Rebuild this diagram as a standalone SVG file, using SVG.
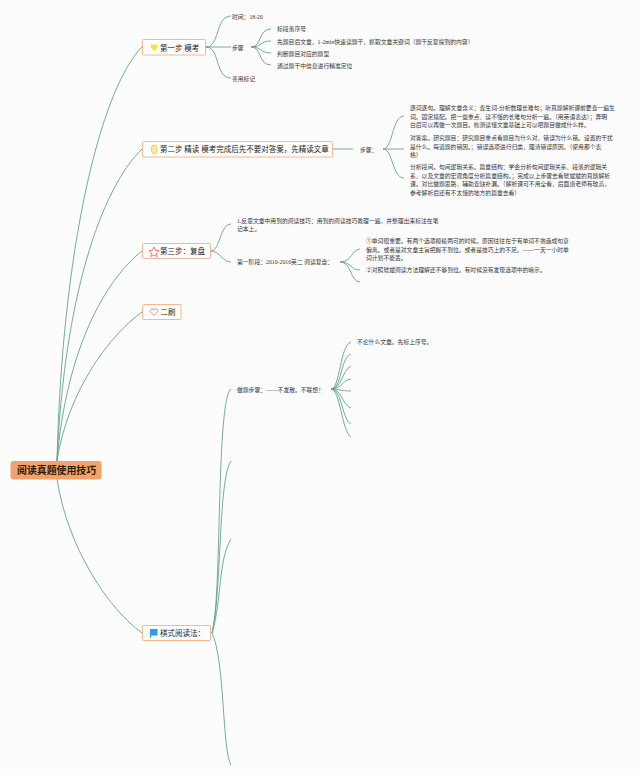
<svg xmlns="http://www.w3.org/2000/svg" width="640" height="775" viewBox="0 0 640 775">
<style>
text{font-family:"Liberation Serif","Noto Sans CJK SC",sans-serif;fill:#333}
.s{font-size:5.8px}
.m{font-size:7.5px;fill:#222}
.r{font-size:9.9px;font-weight:bold;fill:#2a1a10;font-family:"Noto Sans CJK SC",sans-serif}
.b{fill:#fff;stroke:#f2b184;stroke-width:.9}
.c path{fill:none;stroke:#64a391;stroke-width:.9}
</style>
<rect width="640" height="775" fill="#fcfcfd"/>
<g class="c" id="connectors">
<path d="M57 461C62 250 100 90 142 47"/>
<path d="M57 461C64 300 100 190 142 149"/>
<path d="M57 461C66 350 105 280 142 251"/>
<path d="M57 461C68 390 110 335 142 312"/>
<path d="M57 479C68 550 110 610 142 633"/>
<path d="M206 47C220 47 215 16 231 16"/>
<path d="M206 47H231"/>
<path d="M206 47C220 47 215 78 231 78"/>
<path d="M251 47C262 47 258 29 271 29"/>
<path d="M251 47C262 47 260 41 271 41"/>
<path d="M251 47C262 47 260 53 271 53"/>
<path d="M251 47C262 47 258 65 271 65"/>
<path d="M333 149H353"/>
<path d="M383 149C393 149 392 116 404 116"/>
<path d="M383 149H404"/>
<path d="M383 149C393 149 392 178 404 178"/>
<path d="M211 251C220 251 220 224 231 224"/>
<path d="M211 251C220 251 222 262 231 262"/>
<path d="M340 262C352 262 352 249 360 249"/>
<path d="M340 262C352 262 350 270 360 270"/>
<path d="M340 262C352 262 350 282 360 282"/>
<path d="M212 633C222 600 216 400 231 389"/>
<path d="M212 633C222 590 218 480 231 461"/>
<path d="M212 633C222 600 218 560 231 539"/>
<path d="M212 633C225 660 222 750 231 765"/>
<path d="M331 389C340 389 340 345 351 342"/>
<path d="M331 389C342 389 340 358 351 354"/>
<path d="M331 389C342 389 342 370 351 366"/>
<path d="M331 389C342 389 342 380 351 379"/>
<path d="M331 389C340 389 340 391 351 391"/>
<path d="M331 389C342 389 342 405 351 408"/>
<path d="M331 389C342 389 342 420 351 424"/>
<path d="M331 389C340 389 342 432 351 437"/>
</g>
<g id="root"><rect x="10.500" y="461" width="91" height="18.500" rx="3" fill="#f4a26b"/><text class="r" x="17" y="474">阅读真题使用技巧</text></g>
<g id="step1"><rect class="b" x="142.500" y="39.500" width="63" height="15.500" rx="1"/><path d="M151 44.500h6.500v3.500l-3.200 3-3.300-3z" fill="#f6e33f"/><text class="m" x="160" y="50.500">第一步 模考</text></g>
<g id="step2"><rect class="b" x="142.500" y="141.500" width="190" height="15.500" rx="1"/><rect x="151.500" y="145" width="5.500" height="8.500" rx="2.500" fill="#fbe9a0" stroke="#edc64c" stroke-width=".8"/><text class="m" x="160" y="152">第二步 精读 模考完成后先不要对答案，先精读文章</text></g>
<g id="step3"><rect class="b" x="142.500" y="243.500" width="68" height="15" rx="1"/><path d="M154 247l1.500 3.300 3.500.4-2.600 2.400.7 3.500-3.100-1.800-3.100 1.800.7-3.500-2.600-2.400 3.500-.4z" fill="#fff" stroke="#e25c5c" stroke-width=".8"/><text class="m" x="160" y="254">第三步：复盘</text></g>
<g id="step4"><rect class="b" x="142.500" y="304.500" width="38.500" height="15" rx="1"/><path d="M154 315.500l-3.500-3.500c-1.500-2.500 2-4.500 3.500-2 1.500-2.500 5-.5 3.500 2z" fill="#fff" stroke="#e25c5c" stroke-width=".7"/><text class="m" x="160.500" y="315">二刷</text></g>
<g id="step5"><rect class="b" x="142.500" y="625.500" width="68" height="15" rx="1"/><path d="M150 629h7.500v6.500H151v2.500h-1z" fill="#2f9be0"/><text class="m" x="160" y="636">棋式阅读法：</text></g>
<g id="n1a"><text class="s" x="232" y="18.500">时间：18-20</text></g>
<g id="n1b"><text class="s" x="232" y="49.500">步骤</text></g>
<g id="n1c"><text class="s" x="232" y="80.500">善用标记</text></g>
<g id="n1b1"><text class="s" x="277" y="31">标段落序号</text></g>
<g id="n1b2"><text class="s" x="277" y="43.500">先题目后文章，1-2min快速读题干，抓取文章关键词（题干反复提到的内容）</text></g>
<g id="n1b3"><text class="s" x="277" y="56">判断题目对应的题型</text></g>
<g id="n1b4"><text class="s" x="277" y="68">通过题干中信息进行精准定位</text></g>
<g id="n2a"><text class="s" x="360" y="151.500">步骤：</text></g>
<g id="n2b"><text class="s" x="410" y="110">逐词逐句。理解文章含义：查生词-分析数理长难句；听真题解析课前要查一遍生</text><text class="s" x="410" y="118.500">词。固定搭配。把一些重点、读不懂的长难句分析一遍。（用英语表达）；弄明</text><text class="s" x="410" y="127">白后可以再做一次题目。检测读懂文章基础上可以吧题目做成什么样。</text></g>
<g id="n2c"><text class="s" x="410" y="140">对答案。研究题目：研究题目重点看题目为什么对，错误为什么错。设置的干扰</text><text class="s" x="410" y="148.500">是什么。每道题的错因。；错误选项进行归类，理清错误原因。（使用那个表</text><text class="s" x="410" y="157">格）</text></g>
<g id="n2d"><text class="s" x="410" y="169">分析段间。句间逻辑关系。篇章结构：学会分析句间逻辑关系、段落的逻辑关</text><text class="s" x="410" y="177.500">系、以及文章的宏观角度分析篇章结构。；完成以上步骤去看琥斌斌的真题解析</text><text class="s" x="410" y="186">课。对比做题思路，辅助查缺补漏。（解析课可不用全看，后面唐老师有较高，</text><text class="s" x="410" y="194.500">参考解析后还有不太懂的地方的篇章去看）</text></g>
<g id="n3a"><text class="s" x="237" y="222.500">1.反思文章中用到的阅读技巧：用到的阅读技巧教理一遍，并整理出来标注在笔</text><text class="s" x="237" y="231">记本上。</text></g>
<g id="n3b"><text class="s" x="237" y="264">第一阶段：2010-2016英二 阅读复盘：</text></g>
<g id="n3c"><text class="s" x="366" y="243">①单词很重要。有两个选项模棱两可的时候。原因往往在于有单词不熟造成句意</text><text class="s" x="366" y="251.500">偏离。或者是对文章主旨把握不到位。或者是技巧上的不足。——一天一小时单</text><text class="s" x="366" y="260">词计划不能丢。</text></g>
<g id="n3d"><text class="s" x="366" y="272">②对照琥斌阅读方法理解还不够到位。有时候没有发现选项中的暗示。</text></g>
<g id="n5a"><text class="s" x="237" y="391.500">做题步骤：——不发散。不联想！</text></g>
<g id="n5b"><text class="s" x="357" y="344">不论什么文章。先标上序号。</text></g>
</svg>
